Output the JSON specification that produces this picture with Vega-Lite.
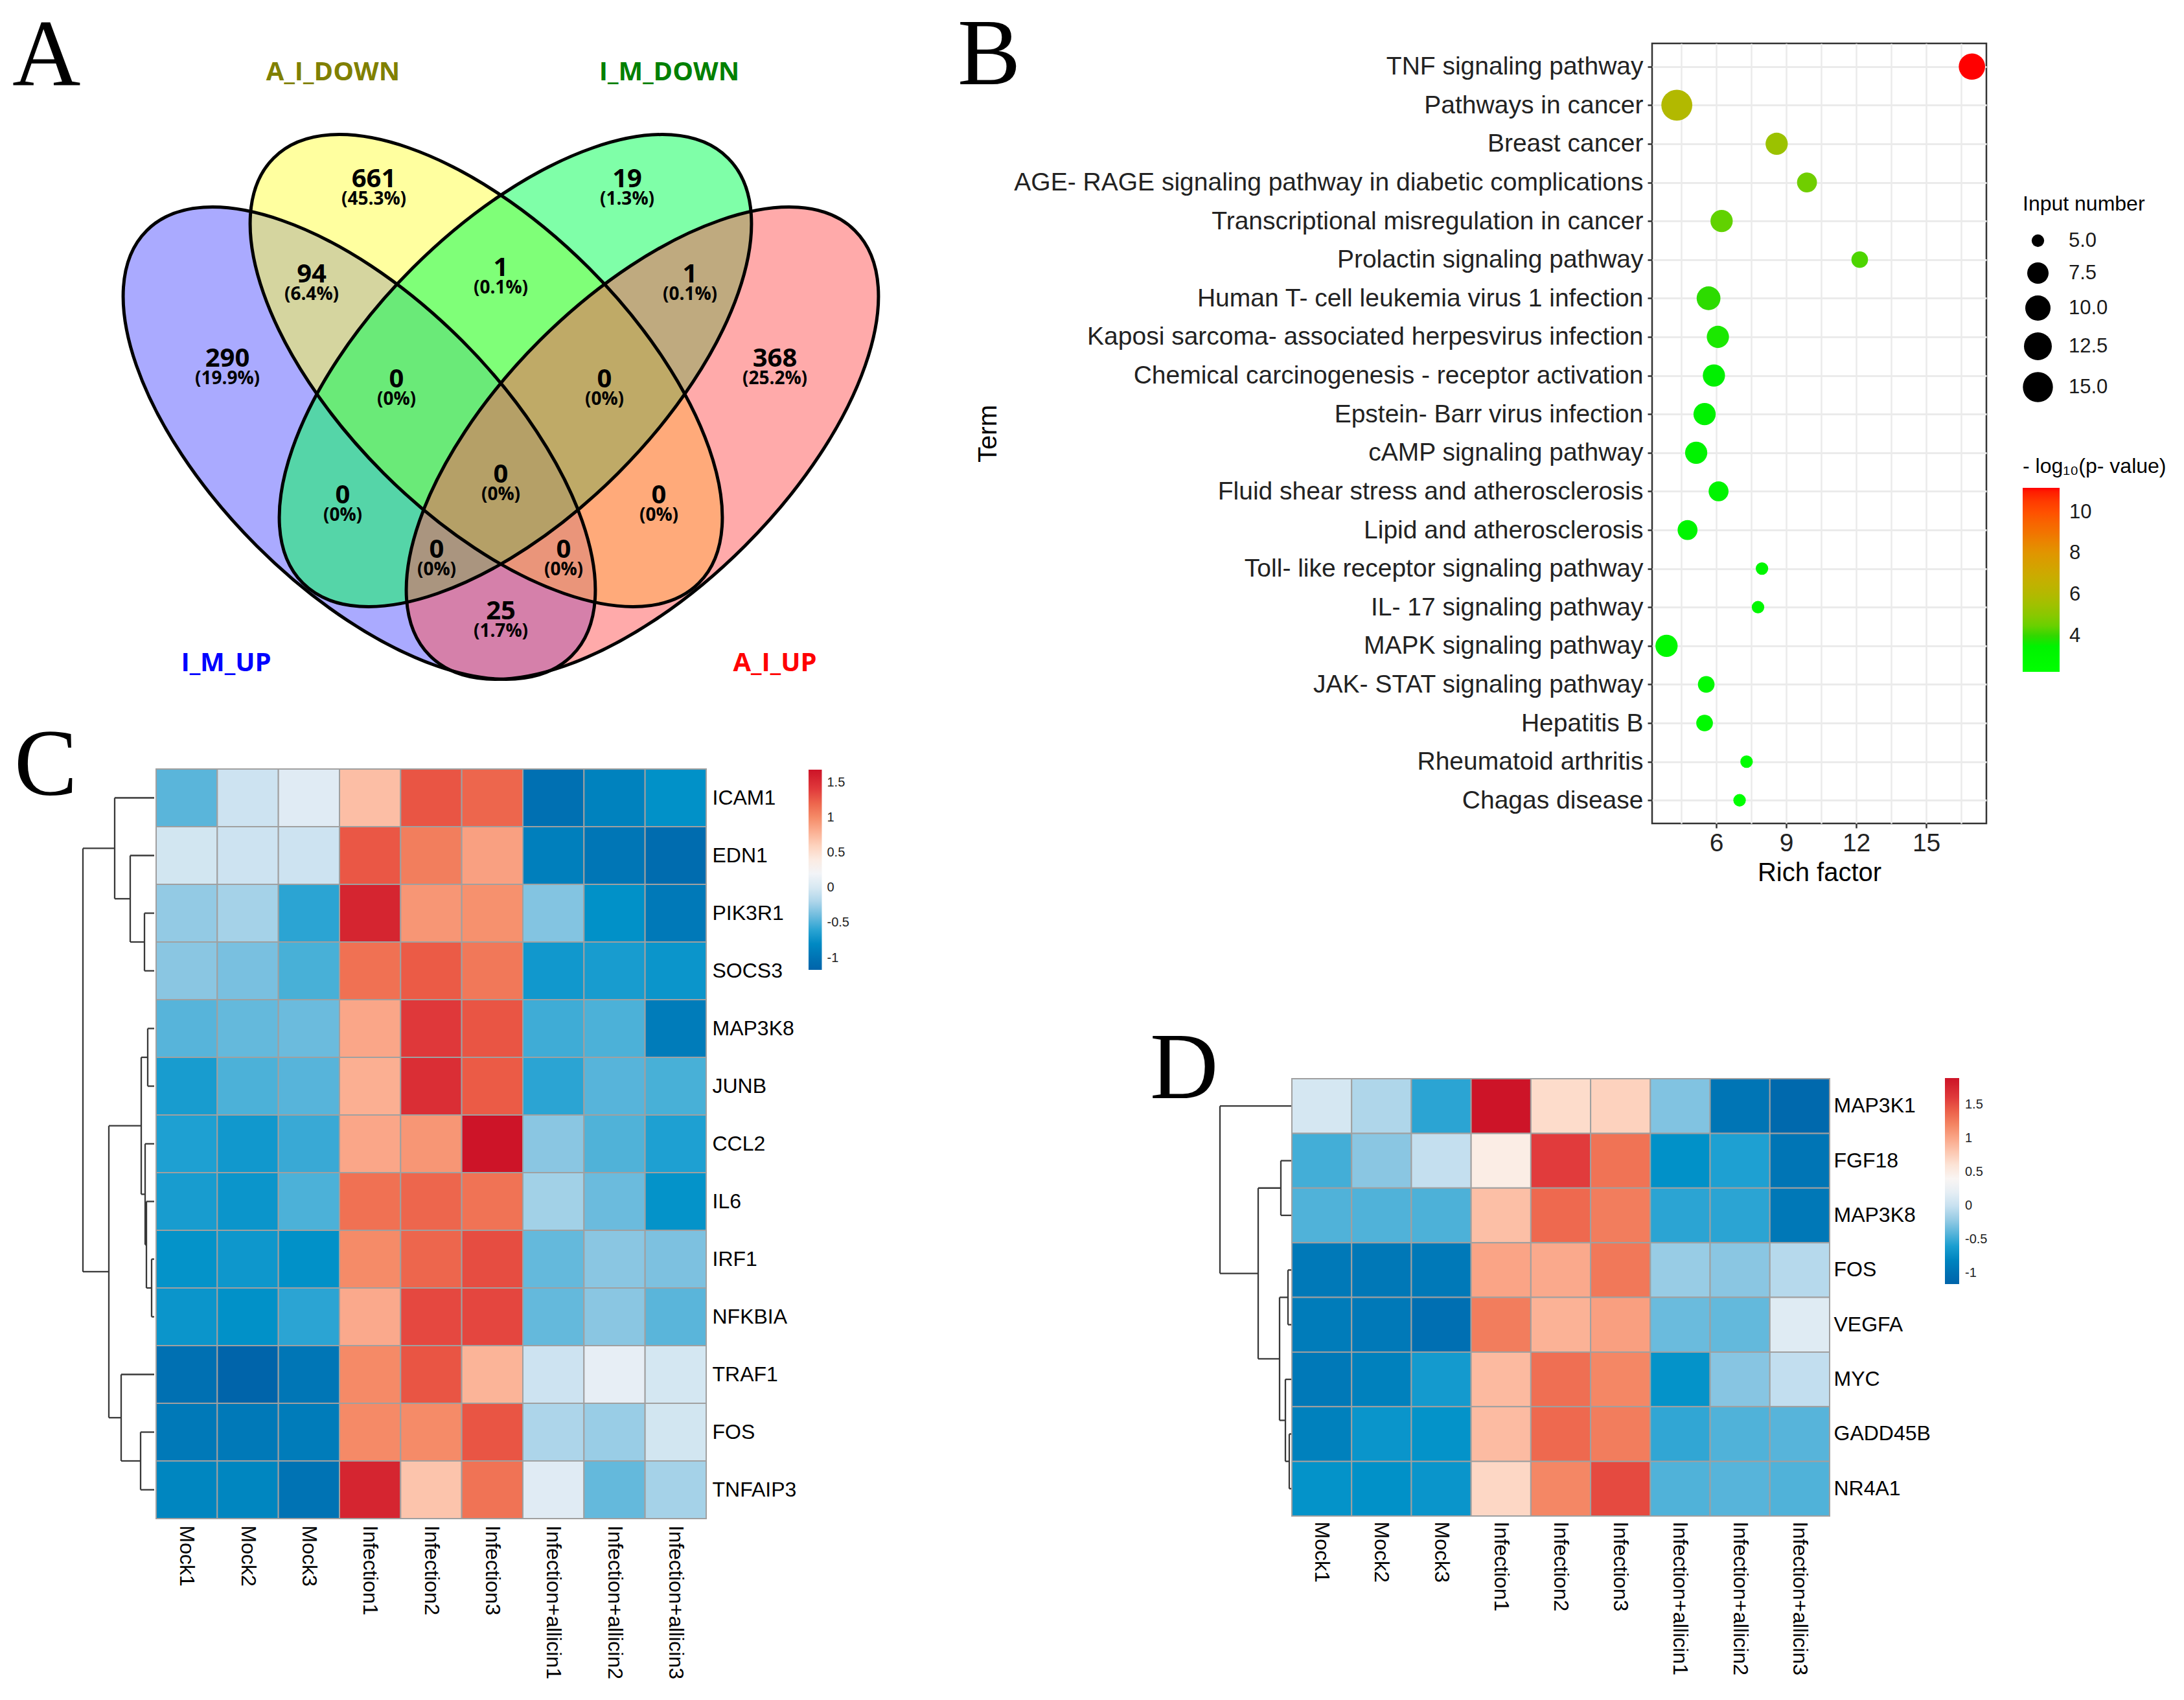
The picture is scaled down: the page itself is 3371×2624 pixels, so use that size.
{
"$schema": "https://vega.github.io/schema/vega-lite/v6.json",
"background": "white",
"padding": 0,
"config": {"font": "Liberation Sans", "view": {"stroke": null}},
"datasets": {
"vennSets": [
{"set":"I_M_UP","x":554.5,"y":684,"angle":45},
{"set":"A_I_DOWN","x":750.5,"y":572,"angle":45},
{"set":"I_M_DOWN","x":795.5,"y":572,"angle":-45},
{"set":"A_I_UP","x":991.5,"y":684,"angle":-45}
],
"vennLabels": [
{"set":"A_I_DOWN","x":514,"y":112},
{"set":"I_M_DOWN","x":1033,"y":112},
{"set":"I_M_UP","x":349,"y":1024},
{"set":"A_I_UP","x":1196,"y":1024}
],
"vennCounts": [
{"n":"661","p":"(45.3%)","x":577,"y":277},
{"n":"19","p":"(1.3%)","x":968,"y":277},
{"n":"94","p":"(6.4%)","x":481,"y":424},
{"n":"1","p":"(0.1%)","x":773,"y":414},
{"n":"1","p":"(0.1%)","x":1065,"y":424},
{"n":"290","p":"(19.9%)","x":351,"y":554},
{"n":"368","p":"(25.2%)","x":1196,"y":554},
{"n":"0","p":"(0%)","x":612,"y":586},
{"n":"0","p":"(0%)","x":933,"y":586},
{"n":"0","p":"(0%)","x":773,"y":733},
{"n":"0","p":"(0%)","x":529,"y":765},
{"n":"0","p":"(0%)","x":1017,"y":765},
{"n":"0","p":"(0%)","x":674,"y":849},
{"n":"0","p":"(0%)","x":870,"y":849},
{"n":"25","p":"(1.7%)","x":773,"y":944}
],
"kegg": [
{"term":"TNF signaling pathway","rich":16.96,"count":11,"logp":11.18},
{"term":"Pathways in cancer","rich":4.31,"count":16,"logp":6.0},
{"term":"Breast cancer","rich":8.59,"count":8,"logp":5.4},
{"term":"AGE- RAGE signaling pathway in diabetic complications","rich":9.89,"count":7,"logp":4.6},
{"term":"Transcriptional misregulation in cancer","rich":6.23,"count":8,"logp":4.4},
{"term":"Prolactin signaling pathway","rich":12.15,"count":6,"logp":4.2},
{"term":"Human T- cell leukemia virus 1 infection","rich":5.67,"count":9,"logp":3.98},
{"term":"Kaposi sarcoma- associated herpesvirus infection","rich":6.07,"count":8,"logp":3.9},
{"term":"Chemical carcinogenesis -  receptor activation","rich":5.9,"count":8,"logp":3.8},
{"term":"Epstein- Barr virus infection","rich":5.5,"count":8,"logp":3.6},
{"term":"cAMP signaling pathway","rich":5.14,"count":8,"logp":3.5},
{"term":"Fluid shear stress and atherosclerosis","rich":6.1,"count":7,"logp":3.4},
{"term":"Lipid and atherosclerosis","rich":4.77,"count":7,"logp":3.3},
{"term":"Toll- like receptor signaling pathway","rich":7.96,"count":5,"logp":3.2},
{"term":"IL- 17 signaling pathway","rich":7.79,"count":5,"logp":3.1},
{"term":"MAPK signaling pathway","rich":3.87,"count":8,"logp":3.0},
{"term":"JAK- STAT signaling pathway","rich":5.57,"count":6,"logp":2.9},
{"term":"Hepatitis B","rich":5.5,"count":6,"logp":2.8},
{"term":"Rheumatoid arthritis","rich":7.3,"count":5,"logp":2.5},
{"term":"Chagas disease","rich":7.0,"count":5,"logp":2.27}
],
"dendC": [
{"h1":15,"h2":15,"r1":2.5,"r2":3.5},{"h1":0,"h2":15,"r1":2.5,"r2":2.5},{"h1":0,"h2":15,"r1":3.5,"r2":3.5},
{"h1":37,"h2":37,"r1":1.5,"r2":3.0},{"h1":0,"h2":37,"r1":1.5,"r2":1.5},{"h1":15,"h2":37,"r1":3.0,"r2":3.0},
{"h1":61,"h2":61,"r1":0.5,"r2":2.25},{"h1":0,"h2":61,"r1":0.5,"r2":0.5},{"h1":37,"h2":61,"r1":2.25,"r2":2.25},
{"h1":10,"h2":10,"r1":4.5,"r2":5.5},{"h1":0,"h2":10,"r1":4.5,"r2":4.5},{"h1":0,"h2":10,"r1":5.5,"r2":5.5},
{"h1":4,"h2":4,"r1":8.5,"r2":9.5},{"h1":0,"h2":4,"r1":8.5,"r2":8.5},{"h1":0,"h2":4,"r1":9.5,"r2":9.5},
{"h1":12,"h2":12,"r1":7.5,"r2":9.0},{"h1":0,"h2":12,"r1":7.5,"r2":7.5},{"h1":4,"h2":12,"r1":9.0,"r2":9.0},
{"h1":14,"h2":14,"r1":6.5,"r2":8.25},{"h1":0,"h2":14,"r1":6.5,"r2":6.5},{"h1":12,"h2":14,"r1":8.25,"r2":8.25},
{"h1":20,"h2":20,"r1":5.0,"r2":7.375},{"h1":10,"h2":20,"r1":5.0,"r2":5.0},{"h1":14,"h2":20,"r1":7.375,"r2":7.375},
{"h1":21,"h2":21,"r1":11.5,"r2":12.5},{"h1":0,"h2":21,"r1":11.5,"r2":11.5},{"h1":0,"h2":21,"r1":12.5,"r2":12.5},
{"h1":51,"h2":51,"r1":10.5,"r2":12.0},{"h1":0,"h2":51,"r1":10.5,"r2":10.5},{"h1":21,"h2":51,"r1":12.0,"r2":12.0},
{"h1":70,"h2":70,"r1":6.1875,"r2":11.25},{"h1":20,"h2":70,"r1":6.1875,"r2":6.1875},{"h1":51,"h2":70,"r1":11.25,"r2":11.25},
{"h1":110,"h2":110,"r1":1.375,"r2":8.71875},{"h1":61,"h2":110,"r1":1.375,"r2":1.375},{"h1":70,"h2":110,"r1":8.71875,"r2":8.71875}
],
"dendD": [
{"h1":16,"h2":16,"r1":1.5,"r2":2.5},{"h1":0,"h2":16,"r1":1.5,"r2":1.5},{"h1":0,"h2":16,"r1":2.5,"r2":2.5},
{"h1":5,"h2":5,"r1":3.5,"r2":4.5},{"h1":0,"h2":5,"r1":3.5,"r2":3.5},{"h1":0,"h2":5,"r1":4.5,"r2":4.5},
{"h1":3,"h2":3,"r1":6.5,"r2":7.5},{"h1":0,"h2":3,"r1":6.5,"r2":6.5},{"h1":0,"h2":3,"r1":7.5,"r2":7.5},
{"h1":9,"h2":9,"r1":5.5,"r2":7.0},{"h1":0,"h2":9,"r1":5.5,"r2":5.5},{"h1":3,"h2":9,"r1":7.0,"r2":7.0},
{"h1":18,"h2":18,"r1":4.0,"r2":6.25},{"h1":5,"h2":18,"r1":4.0,"r2":4.0},{"h1":9,"h2":18,"r1":6.25,"r2":6.25},
{"h1":51,"h2":51,"r1":2.0,"r2":5.125},{"h1":16,"h2":51,"r1":2.0,"r2":2.0},{"h1":18,"h2":51,"r1":5.125,"r2":5.125},
{"h1":110,"h2":110,"r1":0.5,"r2":3.5625},{"h1":0,"h2":110,"r1":0.5,"r2":0.5},{"h1":51,"h2":110,"r1":3.5625,"r2":3.5625}
],
"heatC": [
{"g":"ICAM1","s":"Mock1","v":-0.46},{"g":"ICAM1","s":"Mock2","v":-0.06},{"g":"ICAM1","s":"Mock3","v":0.06},{"g":"ICAM1","s":"Infection1","v":0.71},{"g":"ICAM1","s":"Infection2","v":1.28},{"g":"ICAM1","s":"Infection3","v":1.2},{"g":"ICAM1","s":"Infection+allicin1","v":-1.03},{"g":"ICAM1","s":"Infection+allicin2","v":-0.86},{"g":"ICAM1","s":"Infection+allicin3","v":-0.74},
{"g":"EDN1","s":"Mock1","v":-0.03},{"g":"EDN1","s":"Mock2","v":-0.06},{"g":"EDN1","s":"Mock3","v":-0.06},{"g":"EDN1","s":"Infection1","v":1.27},{"g":"EDN1","s":"Infection2","v":1.08},{"g":"EDN1","s":"Infection3","v":0.88},{"g":"EDN1","s":"Infection+allicin1","v":-0.89},{"g":"EDN1","s":"Infection+allicin2","v":-0.97},{"g":"EDN1","s":"Infection+allicin3","v":-1.08},
{"g":"PIK3R1","s":"Mock1","v":-0.29},{"g":"PIK3R1","s":"Mock2","v":-0.23},{"g":"PIK3R1","s":"Mock3","v":-0.6},{"g":"PIK3R1","s":"Infection1","v":1.54},{"g":"PIK3R1","s":"Infection2","v":0.94},{"g":"PIK3R1","s":"Infection3","v":0.97},{"g":"PIK3R1","s":"Infection+allicin1","v":-0.34},{"g":"PIK3R1","s":"Infection+allicin2","v":-0.74},{"g":"PIK3R1","s":"Infection+allicin3","v":-0.94},
{"g":"SOCS3","s":"Mock1","v":-0.32},{"g":"SOCS3","s":"Mock2","v":-0.37},{"g":"SOCS3","s":"Mock3","v":-0.51},{"g":"SOCS3","s":"Infection1","v":1.15},{"g":"SOCS3","s":"Infection2","v":1.25},{"g":"SOCS3","s":"Infection3","v":1.11},{"g":"SOCS3","s":"Infection+allicin1","v":-0.69},{"g":"SOCS3","s":"Infection+allicin2","v":-0.66},{"g":"SOCS3","s":"Infection+allicin3","v":-0.71},
{"g":"MAP3K8","s":"Mock1","v":-0.47},{"g":"MAP3K8","s":"Mock2","v":-0.43},{"g":"MAP3K8","s":"Mock3","v":-0.41},{"g":"MAP3K8","s":"Infection1","v":0.85},{"g":"MAP3K8","s":"Infection2","v":1.42},{"g":"MAP3K8","s":"Infection3","v":1.28},{"g":"MAP3K8","s":"Infection+allicin1","v":-0.54},{"g":"MAP3K8","s":"Infection+allicin2","v":-0.5},{"g":"MAP3K8","s":"Infection+allicin3","v":-0.91},
{"g":"JUNB","s":"Mock1","v":-0.66},{"g":"JUNB","s":"Mock2","v":-0.5},{"g":"JUNB","s":"Mock3","v":-0.47},{"g":"JUNB","s":"Infection1","v":0.8},{"g":"JUNB","s":"Infection2","v":1.48},{"g":"JUNB","s":"Infection3","v":1.25},{"g":"JUNB","s":"Infection+allicin1","v":-0.6},{"g":"JUNB","s":"Infection+allicin2","v":-0.47},{"g":"JUNB","s":"Infection+allicin3","v":-0.51},
{"g":"CCL2","s":"Mock1","v":-0.63},{"g":"CCL2","s":"Mock2","v":-0.69},{"g":"CCL2","s":"Mock3","v":-0.56},{"g":"CCL2","s":"Infection1","v":0.85},{"g":"CCL2","s":"Infection2","v":0.94},{"g":"CCL2","s":"Infection3","v":1.68},{"g":"CCL2","s":"Infection+allicin1","v":-0.32},{"g":"CCL2","s":"Infection+allicin2","v":-0.49},{"g":"CCL2","s":"Infection+allicin3","v":-0.63},
{"g":"IL6","s":"Mock1","v":-0.66},{"g":"IL6","s":"Mock2","v":-0.71},{"g":"IL6","s":"Mock3","v":-0.5},{"g":"IL6","s":"Infection1","v":1.15},{"g":"IL6","s":"Infection2","v":1.2},{"g":"IL6","s":"Infection3","v":1.14},{"g":"IL6","s":"Infection+allicin1","v":-0.24},{"g":"IL6","s":"Infection+allicin2","v":-0.41},{"g":"IL6","s":"Infection+allicin3","v":-0.73},
{"g":"IRF1","s":"Mock1","v":-0.73},{"g":"IRF1","s":"Mock2","v":-0.7},{"g":"IRF1","s":"Mock3","v":-0.74},{"g":"IRF1","s":"Infection1","v":1.0},{"g":"IRF1","s":"Infection2","v":1.2},{"g":"IRF1","s":"Infection3","v":1.32},{"g":"IRF1","s":"Infection+allicin1","v":-0.43},{"g":"IRF1","s":"Infection+allicin2","v":-0.32},{"g":"IRF1","s":"Infection+allicin3","v":-0.36},
{"g":"NFKBIA","s":"Mock1","v":-0.71},{"g":"NFKBIA","s":"Mock2","v":-0.74},{"g":"NFKBIA","s":"Mock3","v":-0.6},{"g":"NFKBIA","s":"Infection1","v":0.83},{"g":"NFKBIA","s":"Infection2","v":1.34},{"g":"NFKBIA","s":"Infection3","v":1.35},{"g":"NFKBIA","s":"Infection+allicin1","v":-0.43},{"g":"NFKBIA","s":"Infection+allicin2","v":-0.32},{"g":"NFKBIA","s":"Infection+allicin3","v":-0.46},
{"g":"TRAF1","s":"Mock1","v":-1.03},{"g":"TRAF1","s":"Mock2","v":-1.17},{"g":"TRAF1","s":"Mock3","v":-0.97},{"g":"TRAF1","s":"Infection1","v":1.01},{"g":"TRAF1","s":"Infection2","v":1.28},{"g":"TRAF1","s":"Infection3","v":0.77},{"g":"TRAF1","s":"Infection+allicin1","v":-0.06},{"g":"TRAF1","s":"Infection+allicin2","v":0.11},{"g":"TRAF1","s":"Infection+allicin3","v":-0.02},
{"g":"FOS","s":"Mock1","v":-0.94},{"g":"FOS","s":"Mock2","v":-0.94},{"g":"FOS","s":"Mock3","v":-0.91},{"g":"FOS","s":"Infection1","v":1.01},{"g":"FOS","s":"Infection2","v":1.0},{"g":"FOS","s":"Infection3","v":1.28},{"g":"FOS","s":"Infection+allicin1","v":-0.2},{"g":"FOS","s":"Infection+allicin2","v":-0.27},{"g":"FOS","s":"Infection+allicin3","v":-0.03},
{"g":"TNFAIP3","s":"Mock1","v":-0.83},{"g":"TNFAIP3","s":"Mock2","v":-0.83},{"g":"TNFAIP3","s":"Mock3","v":-1.0},{"g":"TNFAIP3","s":"Infection1","v":1.54},{"g":"TNFAIP3","s":"Infection2","v":0.68},{"g":"TNFAIP3","s":"Infection3","v":1.14},{"g":"TNFAIP3","s":"Infection+allicin1","v":0.06},{"g":"TNFAIP3","s":"Infection+allicin2","v":-0.43},{"g":"TNFAIP3","s":"Infection+allicin3","v":-0.23}
],
"heatD": [
{"g":"MAP3K1","s":"Mock1","v":0.08},{"g":"MAP3K1","s":"Mock2","v":-0.11},{"g":"MAP3K1","s":"Mock3","v":-0.55},{"g":"MAP3K1","s":"Infection1","v":1.89},{"g":"MAP3K1","s":"Infection2","v":0.67},{"g":"MAP3K1","s":"Infection3","v":0.73},{"g":"MAP3K1","s":"Infection+allicin1","v":-0.28},{"g":"MAP3K1","s":"Infection+allicin2","v":-0.96},{"g":"MAP3K1","s":"Infection+allicin3","v":-1.1},
{"g":"FGF18","s":"Mock1","v":-0.47},{"g":"FGF18","s":"Mock2","v":-0.25},{"g":"FGF18","s":"Mock3","v":-0.02},{"g":"FGF18","s":"Infection1","v":0.5},{"g":"FGF18","s":"Infection2","v":1.59},{"g":"FGF18","s":"Infection3","v":1.31},{"g":"FGF18","s":"Infection+allicin1","v":-0.7},{"g":"FGF18","s":"Infection+allicin2","v":-0.58},{"g":"FGF18","s":"Infection+allicin3","v":-0.96},
{"g":"MAP3K8","s":"Mock1","v":-0.43},{"g":"MAP3K8","s":"Mock2","v":-0.43},{"g":"MAP3K8","s":"Mock3","v":-0.44},{"g":"MAP3K8","s":"Infection1","v":0.85},{"g":"MAP3K8","s":"Infection2","v":1.36},{"g":"MAP3K8","s":"Infection3","v":1.25},{"g":"MAP3K8","s":"Infection+allicin1","v":-0.55},{"g":"MAP3K8","s":"Infection+allicin2","v":-0.55},{"g":"MAP3K8","s":"Infection+allicin3","v":-0.93},
{"g":"FOS","s":"Mock1","v":-0.92},{"g":"FOS","s":"Mock2","v":-0.93},{"g":"FOS","s":"Mock3","v":-0.92},{"g":"FOS","s":"Infection1","v":1.01},{"g":"FOS","s":"Infection2","v":0.98},{"g":"FOS","s":"Infection3","v":1.28},{"g":"FOS","s":"Infection+allicin1","v":-0.2},{"g":"FOS","s":"Infection+allicin2","v":-0.25},{"g":"FOS","s":"Infection+allicin3","v":-0.08},
{"g":"VEGFA","s":"Mock1","v":-0.89},{"g":"VEGFA","s":"Mock2","v":-0.92},{"g":"VEGFA","s":"Mock3","v":-1.02},{"g":"VEGFA","s":"Infection1","v":1.25},{"g":"VEGFA","s":"Infection2","v":0.93},{"g":"VEGFA","s":"Infection3","v":1.04},{"g":"VEGFA","s":"Infection+allicin1","v":-0.35},{"g":"VEGFA","s":"Infection+allicin2","v":-0.37},{"g":"VEGFA","s":"Infection+allicin3","v":0.15},
{"g":"MYC","s":"Mock1","v":-0.92},{"g":"MYC","s":"Mock2","v":-0.84},{"g":"MYC","s":"Mock3","v":-0.63},{"g":"MYC","s":"Infection1","v":0.88},{"g":"MYC","s":"Infection2","v":1.33},{"g":"MYC","s":"Infection3","v":1.19},{"g":"MYC","s":"Infection+allicin1","v":-0.69},{"g":"MYC","s":"Infection+allicin2","v":-0.26},{"g":"MYC","s":"Infection+allicin3","v":-0.03},
{"g":"GADD45B","s":"Mock1","v":-0.84},{"g":"GADD45B","s":"Mock2","v":-0.67},{"g":"GADD45B","s":"Mock3","v":-0.69},{"g":"GADD45B","s":"Infection1","v":0.87},{"g":"GADD45B","s":"Infection2","v":1.36},{"g":"GADD45B","s":"Infection3","v":1.25},{"g":"GADD45B","s":"Infection+allicin1","v":-0.53},{"g":"GADD45B","s":"Infection+allicin2","v":-0.43},{"g":"GADD45B","s":"Infection+allicin3","v":-0.41},
{"g":"NR4A1","s":"Mock1","v":-0.69},{"g":"NR4A1","s":"Mock2","v":-0.7},{"g":"NR4A1","s":"Mock3","v":-0.67},{"g":"NR4A1","s":"Infection1","v":0.7},{"g":"NR4A1","s":"Infection2","v":1.19},{"g":"NR4A1","s":"Infection3","v":1.52},{"g":"NR4A1","s":"Infection+allicin1","v":-0.43},{"g":"NR4A1","s":"Infection+allicin2","v":-0.41},{"g":"NR4A1","s":"Infection+allicin3","v":-0.43}
]
},
"hconcat": [
{
"vconcat": [
{
"width": 1460, "height": 1187,
"title": {"text": "A", "anchor": "start", "frame": "group", "offset": 0, "baseline": "alphabetic", "dx": 19, "dy": 277, "font": "Liberation Serif", "fontSize": 146, "fontWeight": "normal", "color": "#000000"},
"layer": [
{"data": {"name": "vennSets"},
 "mark": {"type": "point", "shape": "M1,0C1,0.2666,0.5523,0.4828,0,0.4828C-0.5523,0.4828,-1,0.2666,-1,0C-1,-0.2666,-0.5523,-0.4828,0,-0.4828C0.5523,-0.4828,1,-0.2666,1,0Z", "size": 861184, "filled": true, "fillOpacity": 0.5, "strokeWidth": 0, "opacity": 1},
 "encoding": {
  "x": {"field": "x", "type": "quantitative", "scale": {"domain": [0, 1460], "nice": false, "zero": false}, "axis": null},
  "y": {"field": "y", "type": "quantitative", "scale": {"domain": [0, 1187], "nice": false, "zero": false, "reverse": true}, "axis": null},
  "angle": {"field": "angle", "type": "quantitative", "scale": null},
  "fill": {"field": "set", "type": "nominal", "scale": {"domain": ["I_M_UP", "A_I_DOWN", "I_M_DOWN", "A_I_UP"], "range": ["#5555FF", "#FFFF40", "#00FF51", "#FF5555"]}, "legend": null}
 }},
{"data": {"name": "vennSets"},
 "mark": {"type": "point", "shape": "M1,0C1,0.2666,0.5523,0.4828,0,0.4828C-0.5523,0.4828,-1,0.2666,-1,0C-1,-0.2666,-0.5523,-0.4828,0,-0.4828C0.5523,-0.4828,1,-0.2666,1,0Z", "size": 861184, "filled": false, "stroke": "#000000", "strokeWidth": 5, "opacity": 1},
 "encoding": {
  "x": {"field": "x", "type": "quantitative"},
  "y": {"field": "y", "type": "quantitative"},
  "angle": {"field": "angle", "type": "quantitative", "scale": null}
 }},
{"data": {"name": "vennCounts"},
 "mark": {"type": "text", "font": "Open Sans", "fontWeight": "bold", "fontSize": 40, "align": "center", "baseline": "middle", "color": "#000000"},
 "encoding": {"x": {"field": "x", "type": "quantitative"}, "y": {"field": "y", "type": "quantitative"}, "text": {"field": "n"}}},
{"data": {"name": "vennCounts"},
 "mark": {"type": "text", "font": "Open Sans", "fontWeight": "bold", "fontSize": 28, "align": "center", "baseline": "middle", "dy": 31, "color": "#000000"},
 "encoding": {"x": {"field": "x", "type": "quantitative"}, "y": {"field": "y", "type": "quantitative"}, "text": {"field": "p"}}},
{"data": {"name": "vennLabels"},
 "mark": {"type": "text", "font": "Open Sans", "fontWeight": "bold", "fontSize": 40, "align": "center", "baseline": "middle"},
 "encoding": {"x": {"field": "x", "type": "quantitative"}, "y": {"field": "y", "type": "quantitative"}, "text": {"field": "set"},
  "color": {"field": "set", "type": "nominal", "scale": {"domain": ["A_I_DOWN", "I_M_DOWN", "I_M_UP", "A_I_UP"], "range": ["#808000", "#008000", "#0000FF", "#FF0000"]}, "legend": null}}}
]
},
{
"hconcat": [
{
"width": 241, "height": 1157,
"title": {"text": "C", "anchor": "start", "frame": "group", "offset": 0, "baseline": "alphabetic", "dx": 22, "dy": 186, "font": "Liberation Serif", "fontSize": 146, "fontWeight": "normal", "color": "#000000"},
"data": {"name": "dendC"},
"mark": {"type": "rule", "stroke": "#383838", "strokeWidth": 2.3},
"encoding": {
 "x": {"field": "h1", "type": "quantitative", "scale": {"domain": [-3, 238], "reverse": true, "nice": false, "zero": false}, "axis": null},
 "x2": {"field": "h2"},
 "y": {"field": "r1", "type": "quantitative", "scale": {"domain": [0, 13], "reverse": true, "nice": false, "zero": false}, "axis": null},
 "y2": {"field": "r2"}
}
},
{
"width": 849, "height": 1157,
"data": {"name": "heatC"},
"mark": {"type": "rect", "stroke": "#A0A0A0", "strokeWidth": 2},
"encoding": {
 "x": {"field": "s", "type": "nominal", "sort": ["Mock1","Mock2","Mock3","Infection1","Infection2","Infection3","Infection+allicin1","Infection+allicin2","Infection+allicin3"], "scale": {"paddingInner": 0, "paddingOuter": 0},
  "axis": {"orient": "bottom", "title": null, "labelAngle": 90, "labelAlign": "left", "labelBaseline": "middle", "domain": false, "ticks": false, "labelPadding": 10, "labelFontSize": 32, "labelColor": "#000000", "labelLimit": 500}},
 "y": {"field": "g", "type": "nominal", "sort": ["ICAM1","EDN1","PIK3R1","SOCS3","MAP3K8","JUNB","CCL2","IL6","IRF1","NFKBIA","TRAF1","FOS","TNFAIP3"], "scale": {"paddingInner": 0, "paddingOuter": 0},
  "axis": {"orient": "right", "title": null, "domain": false, "ticks": false, "labelPadding": 9, "labelFontSize": 32, "labelColor": "#000000", "labelLimit": 500}},
 "color": {"field": "v", "type": "quantitative",
  "scale": {"domain": [-1.17,-1.0,-0.857,-0.743,-0.629,-0.515,-0.429,-0.344,-0.23,-0.087,-0.002,0.141,0.255,0.512,0.711,0.854,0.996,1.139,1.253,1.395,1.509,1.68],
            "range": ["#0064AA","#0073B4","#0082BE","#0091C8","#1EA0D2","#46AFD7","#64B9DC","#82C3E1","#A5D2E8","#C8E1F0","#D7E8F2","#EBF0F5","#F8F8F8","#FDE1D2","#FCBEA5","#FAA587","#F58C69","#F07355","#EB5A46","#E13C3C","#D72832","#CD1428"]},
  "legend": {"orient": "none", "legendX": 1007, "legendY": 1, "direction": "vertical", "title": null, "values": [-1,-0.5,0,0.5,1,1.5], "labelExpr": "toString(datum.value)", "gradientLength": 309, "gradientThickness": 20.5, "gradientStrokeWidth": 0, "labelFontSize": 20, "labelOffset": 8, "labelColor": "#222222", "labelOverlap": false}}
}
}
],
"spacing": 0,
"bounds": "flush",
"resolve": {"scale": {"color": "independent"}, "legend": {"color": "independent"}}
}
],
"spacing": 0,
"bounds": "flush",
"resolve": {"scale": {"color": "independent", "fill": "independent"}, "legend": {"color": "independent", "fill": "independent"}}
},
{"width": 1460, "height": 1, "data": {"values": []}, "mark": {"type": "point", "opacity": 0}, "encoding": {}},
{
"vconcat": [
{"width": 1, "height": 67, "data": {"values": []}, "mark": {"type": "point", "opacity": 0}, "encoding": {}},
{
"hconcat": [
{"width": 1090, "height": 1204,
 "title": {"text": "B", "anchor": "start", "frame": "group", "offset": 0, "baseline": "alphabetic", "dx": 18, "dy": 209, "font": "Liberation Serif", "fontSize": 146, "fontWeight": "normal", "color": "#000000"},
 "data": {"values": []}, "mark": {"type": "point", "opacity": 0}, "encoding": {}},
{
"width": 516, "height": 1204,
"view": {"stroke": "#333333", "strokeWidth": 2.5},
"data": {"name": "kegg"},
"mark": {"type": "circle", "opacity": 1},
"encoding": {
 "x": {"field": "rich", "type": "quantitative", "scale": {"domain": [3.25, 17.58], "nice": false, "zero": false},
  "axis": {"title": "Rich factor", "values": [4.5,6,7.5,9,10.5,12,13.5,15,16.5], "labelExpr": "datum.value % 3 === 0 ? datum.label : ''",
   "tickOpacity": {"condition": {"test": "datum.value % 3 === 0", "value": 1}, "value": 0},
   "grid": true, "gridColor": "#EBEBEB", "gridWidth": 2.5, "domain": false, "tickSize": 7, "tickWidth": 2.5, "tickColor": "#333333",
   "labelFontSize": 39, "labelColor": "#222222", "labelPadding": 4, "titleFontSize": 40, "titleFontWeight": "normal", "titleColor": "#000000", "titlePadding": 6}},
 "y": {"field": "term", "type": "nominal", "sort": null, "scale": {"type": "point", "padding": 0.6},
  "axis": {"title": "Term", "titleX": -1025, "titleBaseline": "middle", "grid": true, "gridColor": "#EBEBEB", "gridWidth": 3, "domain": false, "tickSize": 7, "tickWidth": 2.5, "tickColor": "#333333",
   "labelFontSize": 39, "labelColor": "#222222", "labelPadding": 7, "labelLimit": 1200, "titleFontSize": 40, "titleFontWeight": "normal", "titleColor": "#000000"}},
 "size": {"field": "count", "type": "quantitative", "scale": {"domain": [5, 7.5, 10, 12.5, 15, 16], "range": [372, 1089, 1521, 1849, 2153, 2285], "zero": false},
  "legend": {"orient": "none", "legendX": 572, "legendY": 233, "title": "Input number", "values": [5, 7.5, 10, 12.5, 15], "format": ".1f",
   "symbolType": "circle", "symbolFillColor": "#000000", "symbolStrokeColor": "#000000", "symbolStrokeWidth": 0, "symbolOpacity": 1,
   "labelFontSize": 31, "labelColor": "#1A1A1A", "labelOffset": 24, "rowPadding": 18, "titleFontSize": 32, "titleFontWeight": "normal", "titleColor": "#000000", "titlePadding": 24, "titleLimit": 400}},
 "color": {"field": "logp", "type": "quantitative",
  "scale": {"domain": [2.27, 3.85, 4, 5, 6, 7, 8, 9, 10, 11.18], "range": ["#00FF00", "#00F000", "#30D800", "#88C800", "#B2B900", "#CCAA00", "#E09600", "#F27400", "#FF5000", "#FF0000"]},
  "legend": {"orient": "none", "legendX": 572, "legendY": 638, "direction": "vertical", "title": "- log₁₀(p- value)", "values": [4, 6, 8, 10], "format": "d",
   "gradientLength": 284, "gradientThickness": 57, "gradientStrokeWidth": 0, "labelOffset": 15, "labelFontSize": 31, "labelColor": "#1A1A1A", "labelOverlap": false,
   "titleFontSize": 32, "titleFontWeight": "normal", "titleColor": "#000000", "titlePadding": 16, "titleLimit": 400}}
}
}
],
"spacing": 0,
"bounds": "flush",
"resolve": {"scale": {"color": "independent", "size": "independent"}, "legend": {"color": "independent", "size": "independent"}}
},
{"width": 1, "height": 1598, "data": {"values": []}, "mark": {"type": "point", "opacity": 0}, "encoding": {}},
{
"hconcat": [
{
"width": 534, "height": 675,
"title": {"text": "D", "anchor": "start", "frame": "group", "offset": 0, "baseline": "alphabetic", "dx": 315, "dy": 176, "font": "Liberation Serif", "fontSize": 146, "fontWeight": "normal", "color": "#000000"},
"data": {"name": "dendD"},
"mark": {"type": "rule", "stroke": "#383838", "strokeWidth": 2.3},
"encoding": {
 "x": {"field": "h1", "type": "quantitative", "scale": {"domain": [-1, 533], "reverse": true, "nice": false, "zero": false}, "axis": null},
 "x2": {"field": "h2"},
 "y": {"field": "r1", "type": "quantitative", "scale": {"domain": [0, 8], "reverse": true, "nice": false, "zero": false}, "axis": null},
 "y2": {"field": "r2"}
}
},
{
"width": 830, "height": 675,
"data": {"name": "heatD"},
"mark": {"type": "rect", "stroke": "#A0A0A0", "strokeWidth": 2},
"encoding": {
 "x": {"field": "s", "type": "nominal", "sort": ["Mock1","Mock2","Mock3","Infection1","Infection2","Infection3","Infection+allicin1","Infection+allicin2","Infection+allicin3"], "scale": {"paddingInner": 0, "paddingOuter": 0},
  "axis": {"orient": "bottom", "title": null, "labelAngle": 90, "labelAlign": "left", "labelBaseline": "middle", "domain": false, "ticks": false, "labelPadding": 8, "labelFontSize": 32, "labelColor": "#000000", "labelLimit": 500}},
 "y": {"field": "g", "type": "nominal", "sort": ["MAP3K1","FGF18","MAP3K8","FOS","VEGFA","MYC","GADD45B","NR4A1"], "scale": {"paddingInner": 0, "paddingOuter": 0},
  "axis": {"orient": "right", "title": null, "domain": false, "ticks": false, "labelPadding": 6, "labelFontSize": 32, "labelColor": "#000000", "labelLimit": 500}},
 "color": {"field": "v", "type": "quantitative",
  "scale": {"domain": [-1.16,-0.977,-0.825,-0.703,-0.581,-0.459,-0.367,-0.276,-0.154,-0.001,0.091,0.243,0.365,0.64,0.853,1.006,1.158,1.311,1.433,1.585,1.707,1.89],
            "range": ["#0064AA","#0073B4","#0082BE","#0091C8","#1EA0D2","#46AFD7","#64B9DC","#82C3E1","#A5D2E8","#C8E1F0","#D7E8F2","#EBF0F5","#F8F8F8","#FDE1D2","#FCBEA5","#FAA587","#F58C69","#F07355","#EB5A46","#E13C3C","#D72832","#CD1428"]},
  "legend": {"orient": "none", "legendX": 1008, "legendY": -1, "direction": "vertical", "title": null, "values": [-1,-0.5,0,0.5,1,1.5], "labelExpr": "toString(datum.value)", "gradientLength": 318, "gradientThickness": 22, "gradientStrokeWidth": 0, "labelFontSize": 20, "labelOffset": 9, "labelColor": "#222222", "labelOverlap": false}}
}
}
],
"spacing": 0,
"bounds": "flush",
"resolve": {"scale": {"color": "independent"}, "legend": {"color": "independent"}}
}
],
"spacing": 0,
"bounds": "flush",
"resolve": {"scale": {"color": "independent", "size": "independent"}, "legend": {"color": "independent", "size": "independent"}}
}
],
"spacing": 0,
"bounds": "flush",
"resolve": {"scale": {"color": "independent", "size": "independent", "fill": "independent"}, "legend": {"color": "independent", "size": "independent", "fill": "independent"}}
}
